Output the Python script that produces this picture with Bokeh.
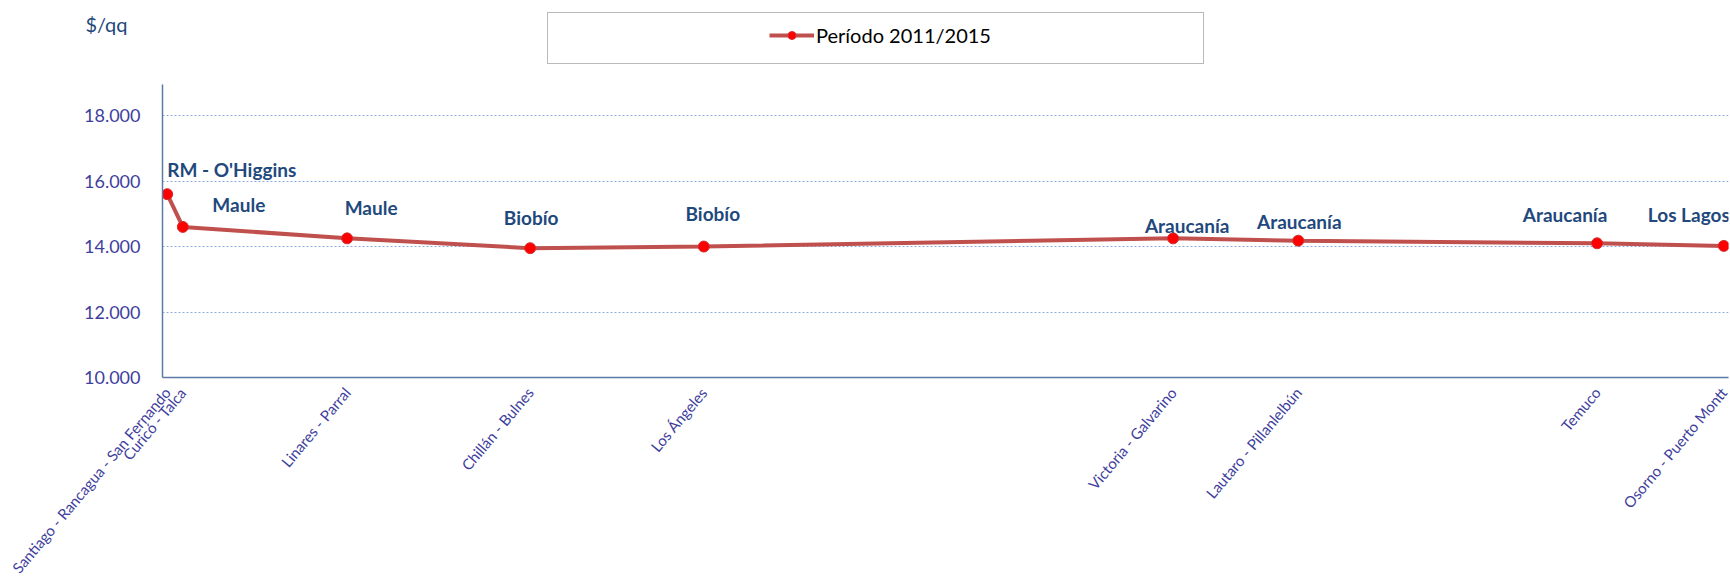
import math
from bokeh.plotting import figure
from bokeh.layouts import column
from bokeh.models import (ColumnDataSource, FixedTicker, Legend, LegendItem,
                          BoxAnnotation, Range1d)
from bokeh.core.properties import value
from bokeh.embed import file_html
from bokeh.resources import INLINE

# ---- data ----
places = ["Santiago - Rancagua - San Fernando", "Curicó - Talca", "Linares - Parral",
          "Chillán - Bulnes", "Los Ángeles", "Victoria - Galvarino",
          "Lautaro - Pillanlelbún", "Temuco", "Osorno - Puerto Montt"]
position = [3, 13, 118, 235, 346, 646, 726, 917, 998]
price = [15600, 14600, 14250, 13950, 14000, 14250, 14180, 14100, 14020]
regions = ["RM - O'Higgins", "Maule", "Maule", "Biobío", "Biobío",
           "Araucanía", "Araucanía", "Araucanía", "Los Lagos"]
y_ticks = [10000, 12000, 14000, 16000, 18000]
y_tick_labels = ["10.000", "12.000", "14.000", "16.000", "18.000"]
series_name = "Período 2011/2015"
unit_label = "$/qq"

# label placement (screen pixels relative to each point)
lab_dx = [0, 56, 24, 1, 9, 14, 1, -32, -35]
lab_dy = [-25, -22, -31, -31, -33, -13, -19, -29, -31]
lab_align = ["left"] + ["center"] * 8

FONT = "Lato"
TICK_COLOR = "#3E3E9C"
LABEL_COLOR = "#1F497D"
LINE_COLOR = "#C0504D"
MARK_COLOR = "#FF0000"
W = 1730
HEAD_H = 84
LEFT = 162
RIGHT = 2

# ---------- header (unit label + legend box) ----------
# header frame is aligned with the main frame; its ranges are in pixels
h = figure(width=W, height=HEAD_H, output_backend="svg", toolbar_location=None,
           x_range=Range1d(0, W - LEFT - RIGHT), y_range=Range1d(HEAD_H, 0),
           x_axis_type=None,
           min_border_left=LEFT, min_border_right=RIGHT, min_border_top=0,
           min_border_bottom=0)
h.outline_line_color = None
h.xgrid.grid_line_color = None
h.ygrid.grid_line_color = None

# the unit label "$/qq" sits in the left border as the header's only tick label
h.yaxis.ticker = FixedTicker(ticks=[23])
h.yaxis.major_label_overrides = {23: unit_label}
h.yaxis.major_label_text_font = FONT
h.yaxis.major_label_text_font_size = "20px"
h.yaxis.major_label_text_color = LABEL_COLOR
h.yaxis.axis_line_color = None
h.yaxis.major_tick_line_color = None
h.yaxis.minor_tick_line_color = None
h.yaxis.major_label_standoff = 29

h.add_layout(BoxAnnotation(left=547 - LEFT, right=1203 - LEFT, top=12, bottom=63,
                           fill_color="white", fill_alpha=1,
                           line_color="#1A1A1A", line_width=1))

nan = float("nan")
dummy = ColumnDataSource(dict(x=[nan], y=[nan]))
hl = h.line("x", "y", source=dummy, line_color=LINE_COLOR, line_width=4)
hs = h.scatter("x", "y", source=dummy, size=11, fill_color=MARK_COLOR,
               line_color="#D03030", line_width=1)
legend = Legend(items=[LegendItem(label=series_name, renderers=[hl, hs])],
                location=(769 - LEFT, 37), glyph_width=45, glyph_height=20,
                label_height=20, label_standoff=2, padding=0, margin=0,
                spacing=0, border_line_alpha=0, background_fill_alpha=0,
                label_text_font=FONT, label_text_font_size="20px",
                label_text_color="black")
h.add_layout(legend)

# ---------- main chart ----------
p = figure(width=W, height=585 - HEAD_H, output_backend="svg",
           toolbar_location=None,
           x_range=Range1d(0, 1001), y_range=Range1d(10000, 18950),
           min_border_left=LEFT, min_border_right=RIGHT, min_border_top=0,
           min_border_bottom=208)
p.outline_line_color = None
p.background_fill_color = "white"

src = ColumnDataSource(dict(x=position, y=price, name=regions,
                            dx=lab_dx, dy=lab_dy, align=lab_align))

p.line("x", "y", source=src, line_color=LINE_COLOR, line_width=4)
p.scatter("x", "y", source=src, size=11, fill_color=MARK_COLOR,
          line_color="#D03030", line_width=1)

p.text("x", "y", text="name", source=src, x_offset="dx", y_offset="dy",
       text_align="align", text_baseline="middle",
       text_font=value(FONT), text_font_style="bold", text_font_size="19px",
       text_color=LABEL_COLOR)

p.xaxis.ticker = FixedTicker(ticks=position)
p.xaxis.major_label_overrides = {pos: nm for pos, nm in zip(position, places)}
p.xaxis.major_label_orientation = math.radians(50)
p.xaxis.major_label_text_font = FONT
p.xaxis.major_label_text_font_size = "15px"
p.xaxis.major_label_text_color = TICK_COLOR
p.xaxis.major_tick_line_color = None
p.xaxis.minor_tick_line_color = None
p.xaxis.axis_line_color = "#5B7BA6"
p.xaxis.axis_line_width = 1.5
p.xaxis.major_label_standoff = 6

p.yaxis.ticker = FixedTicker(ticks=y_ticks)
p.yaxis.major_label_overrides = {t: s for t, s in zip(y_ticks, y_tick_labels)}
p.yaxis.major_label_text_font = FONT
p.yaxis.major_label_text_font_size = "18px"
p.yaxis.major_label_text_color = TICK_COLOR
p.yaxis.major_tick_line_color = None
p.yaxis.minor_tick_line_color = None
p.yaxis.axis_line_color = "#5B7BA6"
p.yaxis.axis_line_width = 1.5
p.yaxis.major_label_standoff = 16

p.xgrid.grid_line_color = None
p.ygrid.grid_line_color = "#8EAADB"
p.ygrid.grid_line_dash = "2 2"
p.ygrid.grid_line_width = 1

layout = column(h, p, spacing=0)
open("out.html", "w").write(file_html(layout, INLINE))
